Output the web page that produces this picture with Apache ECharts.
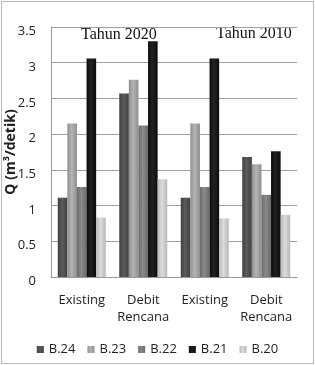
<!DOCTYPE html>
<html>
<head>
<meta charset="utf-8">
<script src="https://cdn.jsdelivr.net/npm/echarts@6/dist/echarts.min.js"></script>
<style>
  html, body { margin: 0; padding: 0; background: #fff; }
  .chart { position: absolute; left: 1px; top: 1px; width: 311px; height: 361px; border: 1px solid #b8b8b8; }
</style>
</head>
<body>
<div class="chart"></div>
<script>
const categories = ['Existing', 'Debit\nRencana', 'Existing', 'Debit\nRencana'];
const yTicks = [0, 0.5, 1, 1.5, 2, 2.5, 3, 3.5];

const b24 = [1.11, 2.57, 1.11, 1.68];
const b23 = [2.15, 2.76, 2.15, 1.58];
const b22 = [1.26, 2.12, 1.26, 1.15];
const b21 = [3.06, 3.30, 3.06, 1.76];
const b20 = [0.83, 1.37, 0.82, 0.87];

const seriesNames = ['B.24', 'B.23', 'B.22', 'B.21', 'B.20'];
const seriesData = [b24, b23, b22, b21, b20];
const colors = ['#5c5c5c', '#b4b4b4', '#8a8a8a', '#222222', '#dcdcdc'];
const edgeColors = ['#3f3f3f', '#8e8e8e', '#6a6a6a', '#0c0c0c', '#b8b8b8'];

function shade(i) {
  return {
    type: 'linear', x: 0, y: 0, x2: 1, y2: 0,
    colorStops: [
      { offset: 0, color: edgeColors[i] },
      { offset: 0.45, color: colors[i] },
      { offset: 1, color: edgeColors[i] }
    ]
  };
}

const dom = document.getElementsByClassName('chart')[0];
const chart = echarts.init(dom);

const font = 'Open Sans';

chart.setOption({
  animation: false,
  textStyle: { fontFamily: font, color: '#222' },
  grid: { left: 49, right: 16, top: 25, bottom: 86, outerBoundsMode: 'none', containLabel: false },
  legend: {
    data: seriesNames,
    bottom: 2,
    left: 'center',
    icon: 'rect',
    itemWidth: 7,
    itemHeight: 7,
    itemGap: 12,
    textStyle: { fontFamily: font, fontSize: 13, color: '#222' }
  },
  graphic: [
    { type: 'text', left: 79, top: 25, style: { text: 'Tahun 2020', fontFamily: 'Liberation Serif', fontSize: 16, fill: '#111' } },
    { type: 'text', left: 214, top: 24, style: { text: 'Tahun 2010', fontFamily: 'Liberation Serif', fontSize: 16, fill: '#111' } }
  ],
  xAxis: {
    type: 'category',
    data: categories,
    axisTick: { show: false },
    axisLine: { lineStyle: { color: '#999' } },
    axisLabel: { fontFamily: font, fontSize: 13, color: '#222', margin: 15, lineHeight: 17, interval: 0 }
  },
  yAxis: {
    type: 'value',
    min: 0,
    max: 3.5,
    interval: 0.5,
    name: 'Q (m³/detik)',
    nameLocation: 'middle',
    nameGap: 33,
    nameMoveOverlap: false,
    nameTextStyle: { fontFamily: font, fontSize: 14, fontWeight: 'bold', color: '#222' },
    axisLine: { show: true, lineStyle: { color: '#999' } },
    axisTick: { show: false },
    axisLabel: {
      fontFamily: font, fontSize: 13, color: '#222', margin: 15,
      formatter: v => yTicks.indexOf(v) >= 0 ? '{t|' + v + '}' : '',
      rich: { t: { fontFamily: font, fontSize: 13, color: '#222', padding: [9, 0, 0, 0] } }
    },
    splitLine: { lineStyle: { color: '#a0a0a0' } }
  },
  series: seriesNames.map((name, i) => ({
    name: name,
    type: 'bar',
    data: seriesData[i],
    barGap: '0%',
    barCategoryGap: '22%',
    itemStyle: { color: shade(i) }
  })),
  color: colors
});

window.addEventListener('resize', chart.resize);
</script>
</body>
</html>
